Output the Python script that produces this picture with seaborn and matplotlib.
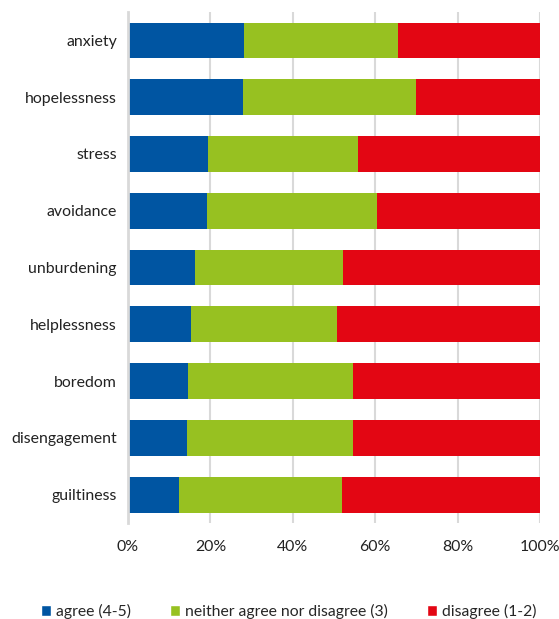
import pandas as pd
import matplotlib
matplotlib.use("Agg")
import matplotlib.pyplot as plt
import seaborn as sns
from matplotlib.patches import Patch

# Values (percent)
items = ["anxiety", "hopelessness", "stress", "avoidance", "unburdening",
         "helplessness", "boredom", "disengagement", "guiltiness"]
agree = [28.1, 27.8, 19.3, 19.1, 16.2, 15.4, 14.5, 14.2, 12.3]
neither = [37.4, 42.2, 36.6, 41.4, 35.9, 35.4, 40.0, 40.5, 39.6]
disagree = [100 - a - n for a, n in zip(agree, neither)]

labels = ["agree (4-5)", "neither agree nor disagree (3)", "disagree (1-2)"]
colors = ["#0055A2", "#97C121", "#E30613"]

df = pd.DataFrame({"item": items, "agree": agree, "neither": neither, "disagree": disagree})
df["cum_neither"] = df["agree"] + df["neither"]
df["cum_disagree"] = df["cum_neither"] + df["disagree"]

sns.set_style("white")
plt.rcParams["font.family"] = ["Lato", "DejaVu Sans"]

fig = plt.figure(figsize=(5.59, 6.19), dpi=100)
ax = fig.add_axes([0.229, 0.155, 0.737, 0.8256])

# stacked bars as overlapping cumulative totals
for col, c in zip(["cum_disagree", "cum_neither", "agree"], colors[::-1]):
    sns.barplot(data=df, x=col, y="item", order=items, color=c, width=0.63,
                linewidth=0, saturation=1, ax=ax)

ax.set_xlim(0, 100)
ax.set_xticks([0, 20, 40, 60, 80, 100])
ax.set_xticklabels(["0%", "20%", "40%", "60%", "80%", "100%"])
ax.set_xlabel("")
ax.set_ylabel("")
ax.set_axisbelow(True)
ax.grid(axis="x", color="#D9D9D9", linewidth=1.5)
ax.grid(axis="y", visible=False)
for s in ["top", "right", "bottom"]:
    ax.spines[s].set_visible(False)
ax.spines["left"].set_color("#D9D9D9")
ax.spines["left"].set_linewidth(2)
ax.tick_params(axis="x", length=0, pad=12, labelsize=11.4, labelcolor="#222222")
ax.tick_params(axis="y", length=0, pad=8, labelsize=11.4, labelcolor="#222222")

handles = [Patch(facecolor=c, label=l) for c, l in zip(colors, labels)]
fig.legend(handles=handles, loc="center", bbox_to_anchor=(0.516, 0.012),
           ncol=3, frameon=False, fontsize=11.3, handlelength=0.65,
           handleheight=0.65, handletextpad=0.3, columnspacing=2.5)

fig.savefig("out.png", dpi=100)
